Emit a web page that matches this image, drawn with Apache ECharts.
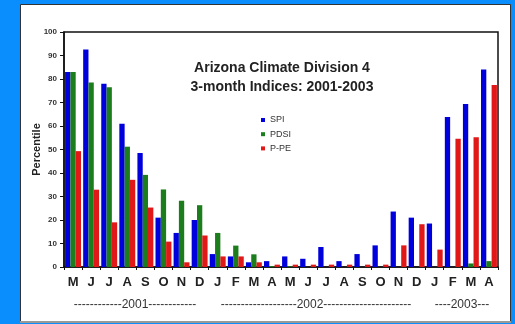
<!DOCTYPE html>
<html>
<head>
<meta charset="utf-8">
<script src="https://cdn.jsdelivr.net/npm/echarts@6/dist/echarts.min.js"></script>
<style>html,body{margin:0;padding:0;background:#0a8dfd;}#c{width:515px;height:324px;}</style>
</head>
<body>
<div id="c"></div>
<script>
var categories = ['M','J','J','A','S','O','N','D','J','F','M','A','M','J','J','A','S','O','N','D','J','F','M','A'];
var spi  = [83, 92.6, 78, 61, 48.5, 21, 14.5, 20, 5.5, 4.5, 2, 2.5, 4.5, 3.5, 8.5, 2.5, 5.5, 9.2, 23.6, 21, 18.5, 63.8, 69.4, 84];
var pdsi = [83, 78.5, 76.5, 51.2, 39.2, 33, 28.2, 26.3, 14.5, 9.1, 5.4, 0.4, 0.3, 0, 0, 0, 0, 0, 0, 0, 0, 0, 1.5, 2.5];
var ppe  = [49.3, 32.9, 19, 37.1, 25.3, 10.8, 2, 13.4, 4.5, 4.5, 2, 1, 1, 1, 1, 1, 1, 1, 9.2, 18.2, 7.4, 54.6, 55.2, 77.4];
var seriesNames = ['SPI', 'PDSI', 'P-PE'];
var yearLabels = ['------------2001------------', '-------------------2002----------------------', '----2003---'];
var titleLines = ['Arizona Climate Division 4', '3-month Indices: 2001-2003'];

var chart = echarts.init(document.getElementById('c'), null, {renderer: 'canvas'});
var font = 'Arial, "Liberation Sans", sans-serif';
var yearX = [135, 316, 462];
chart.setOption({
  backgroundColor: '#0a8dfd',
  animation: false,
  textStyle: {fontFamily: font},
  title: {
    text: titleLines.join('\n'),
    left: 277, top: 53, textAlign: 'center',
    textStyle: {fontSize: 14, fontWeight: 'bold', color: '#222', lineHeight: 19.5, fontFamily: font}
  },
  legend: {
    orient: 'vertical', left: 256, top: 110,
    itemWidth: 4, itemHeight: 4, itemGap: 4.2, icon: 'rect',
    data: seriesNames,
    textStyle: {fontSize: 9, color: '#333', lineHeight: 10, fontFamily: font}
  },
  graphic: [
    {type: 'rect', z: -10, shape: {x: 20.5, y: 4.5, width: 490, height: 317}, style: {fill: '#fff', stroke: '#333', lineWidth: 1}},
    {type: 'line', z: -9, shape: {x1: 20, y1: 322, x2: 511, y2: 322}, style: {stroke: '#999', lineWidth: 2}}
  ].concat(yearLabels.map(function (t, i) {
    return {type: 'text', x: yearX[i], y: 305, style: {text: t, fontSize: 12, fill: '#333', fontFamily: font, textAlign: 'center', textVerticalAlign: 'middle'}};
  })),
  grid: {left: 64, right: 17, top: 32, bottom: 57, show: true, borderColor: '#111', borderWidth: 1.5, backgroundColor: 'transparent'},
  xAxis: {
    type: 'category', data: categories,
    axisLine: {lineStyle: {color: '#111', width: 1.5}},
    axisTick: {show: true, length: 3, lineStyle: {color: '#111'}},
    axisLabel: {interval: 0, fontSize: 13, fontWeight: 'bold', color: '#222', margin: 9, fontFamily: font}
  },
  yAxis: {
    type: 'value', min: 0, max: 100, interval: 10,
    name: 'Percentile', nameLocation: 'middle', nameGap: 22, nameRotate: 90, nameMoveOverlap: false,
    nameTextStyle: {fontSize: 11, fontWeight: 'bold', color: '#222', fontFamily: font},
    axisLine: {show: true, lineStyle: {color: '#111', width: 1.5}},
    axisTick: {show: true, length: 4, lineStyle: {color: '#111'}},
    splitLine: {show: false},
    axisLabel: {fontSize: 8, fontWeight: 'bold', color: '#333', margin: 7, fontFamily: font}
  },
  series: [
    {name: seriesNames[0], type: 'bar', data: spi, itemStyle: {color: '#0000dd'}, barGap: '0%', barCategoryGap: '12%'},
    {name: seriesNames[1], type: 'bar', data: pdsi, itemStyle: {color: '#1c7d1c'}, barGap: '0%', barCategoryGap: '12%'},
    {name: seriesNames[2], type: 'bar', data: ppe, itemStyle: {color: '#e01818'}, barGap: '0%', barCategoryGap: '12%'}
  ]
});
</script>
</body>
</html>
